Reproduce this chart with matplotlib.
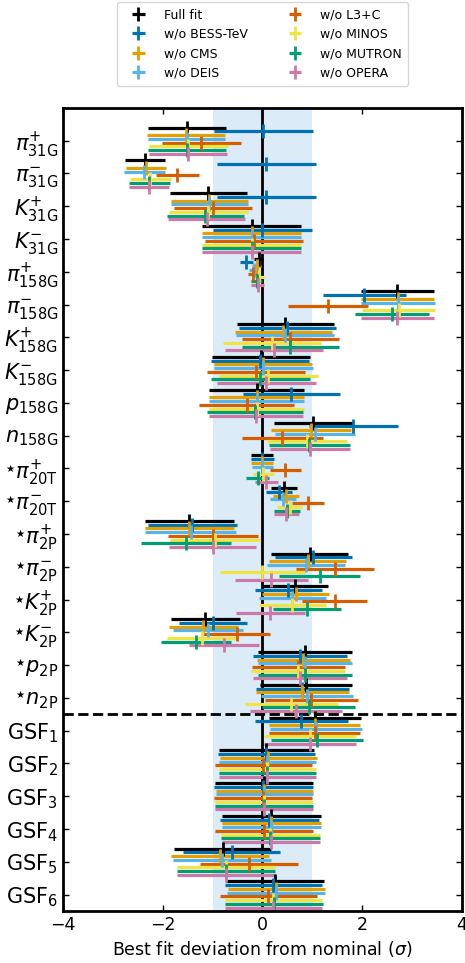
#!/usr/bin/env python

# Best-fit deviations of the flux parameters from nominal,
# for the full fit and for fits leaving out one data set at a time
# ------------------------------------------------------------------------------

import numpy as np
import matplotlib
matplotlib.use('Agg')
import matplotlib.pyplot as plt

# -------------
# Data
# -------------

# Parameter labels (top to bottom)
star = r'{}^{{}_{★}}'
params = [r'$\pi^{+}_{31\mathrm{G}}$', r'$\pi^{-}_{31\mathrm{G}}$',
          r'$K^{+}_{31\mathrm{G}}$', r'$K^{-}_{31\mathrm{G}}$',
          r'$\pi^{+}_{158\mathrm{G}}$', r'$\pi^{-}_{158\mathrm{G}}$',
          r'$K^{+}_{158\mathrm{G}}$', r'$K^{-}_{158\mathrm{G}}$',
          r'$p_{158\mathrm{G}}$', r'$n_{158\mathrm{G}}$',
          r'$' + star + r'\pi^{+}_{20\mathrm{T}}$', r'$' + star + r'\pi^{-}_{20\mathrm{T}}$',
          r'$' + star + r'\pi^{+}_{2\mathrm{P}}$', r'$' + star + r'\pi^{-}_{2\mathrm{P}}$',
          r'$' + star + r'K^{+}_{2\mathrm{P}}$', r'$' + star + r'K^{-}_{2\mathrm{P}}$',
          r'$' + star + r'p_{2\mathrm{P}}$', r'$' + star + r'n_{2\mathrm{P}}$',
          r'GSF$_1$', r'GSF$_2$', r'GSF$_3$', r'GSF$_4$', r'GSF$_5$', r'GSF$_6$']

labels = ['Full fit', 'w/o BESS-TeV', 'w/o CMS', 'w/o DEIS',
          'w/o L3+C', 'w/o MINOS', 'w/o MUTRON', 'w/o OPERA']

full = [-1.52, -2.35, -1.09, -0.22, -0.08, 2.70, 0.46, -0.03, -0.12, 1.02, -0.01, 0.44,
        -1.47, 0.95, 0.65, -1.15, 0.85, 0.87, 1.05, 0.08, 0.03, 0.18, -0.80, 0.25]
full_err = [0.785, 0.40, 0.77, 0.99, 0.09, 0.73, 0.98, 0.985, 0.95, 0.79, 0.23, 0.26,
            0.89, 0.77, 0.66, 0.69, 0.94, 0.93, 0.92, 0.955, 0.985, 0.985, 0.97, 0.98]

bess = [0.02, 0.08, 0.08, 0.00, -0.33, 2.04, 0.50, -0.05, 0.58, 1.82, 0.00, 0.34,
        -1.41, 1.02, 0.52, -0.99, 0.75, 0.80, 0.78, 0.08, 0.02, 0.14, -0.62, 0.22]
bess_err = [0.99, 0.985, 0.99, 0.995, 0.13, 0.835, 0.98, 0.985, 0.98, 0.89, 0.23, 0.26,
            0.89, 0.77, 0.67, 0.68, 0.95, 0.93, 0.93, 0.97, 0.985, 0.985, 0.975, 0.98]

cms = [-1.54, -2.34, -1.07, -0.22, -0.12, 2.71, 0.42, 0.01, -0.12, 0.97, -0.01, 0.47,
       -1.47, 0.91, 0.67, -1.19, 0.82, 0.80, 1.05, 0.12, 0.04, 0.18, -0.85, 0.28]
cms_err = [0.785, 0.40, 0.77, 0.99, 0.10, 0.73, 0.98, 0.99, 0.95, 0.80, 0.23, 0.26,
           0.89, 0.77, 0.67, 0.69, 0.94, 0.93, 0.91, 0.97, 0.98, 0.985, 0.98, 0.98]

deis = [-1.52, -2.37, -1.07, -0.22, -0.18, 2.71, 0.45, 0.02, -0.12, 1.05, 0.00, 0.42,
        -1.44, 0.87, 0.60, -1.10, 0.85, 0.89, 1.07, 0.10, 0.04, 0.18, -0.81, 0.27]
deis_err = [0.77, 0.41, 0.77, 0.99, 0.09, 0.74, 0.98, 0.985, 0.95, 0.80, 0.22, 0.26,
            0.91, 0.78, 0.68, 0.70, 0.94, 0.92, 0.92, 0.98, 0.98, 0.985, 0.975, 0.98]

l3c = [-1.23, -1.71, -0.99, -0.17, -0.20, 1.31, 0.56, -0.13, -0.32, 0.40, 0.46, 0.91,
       -1.00, 1.45, 1.45, -0.52, 0.72, 0.98, 1.05, 0.02, 0.01, 0.03, -0.27, 0.12]
l3c_err = [0.79, 0.43, 0.78, 0.99, 0.10, 0.80, 0.98, 0.985, 0.95, 0.82, 0.31, 0.32,
           0.90, 0.78, 0.65, 0.68, 0.94, 0.93, 0.91, 0.98, 0.985, 0.985, 0.98, 0.98]

minos = [-1.49, -2.25, -1.09, -0.22, -0.08, 2.73, 0.19, 0.12, -0.12, 0.90, 0.02, 0.55,
         -0.95, 0.00, 0.60, -1.22, 0.71, 0.58, 0.96, 0.10, 0.03, 0.16, -0.73, 0.22]
minos_err = [0.79, 0.41, 0.79, 0.99, 0.11, 0.725, 0.98, 0.985, 0.95, 0.80, 0.22, 0.25,
             0.90, 0.85, 0.68, 0.69, 0.94, 0.93, 0.92, 0.98, 0.985, 0.99, 0.98, 0.98]

mutron = [-1.52, -2.27, -1.15, -0.22, -0.12, 2.60, 0.56, -0.04, -0.15, 0.94, -0.10, 0.50,
          -1.53, 1.15, 0.89, -1.33, 0.85, 0.93, 1.09, 0.10, 0.03, 0.16, -0.73, 0.23]
mutron_err = [0.78, 0.41, 0.77, 0.99, 0.12, 0.74, 0.98, 0.985, 0.96, 0.81, 0.23, 0.26,
              0.90, 0.81, 0.68, 0.70, 0.95, 0.93, 0.92, 0.98, 0.985, 0.99, 0.98, 0.98]

opera = [-1.50, -2.27, -1.12, -0.22, -0.10, 2.70, 0.23, 0.08, -0.13, 0.95, 0.08, 0.48,
         -1.00, 0.18, 0.16, -0.77, 0.75, 0.67, 0.96, 0.10, 0.03, 0.17, -0.73, 0.22]
opera_err = [0.78, 0.40, 0.77, 0.99, 0.13, 0.73, 0.98, 0.985, 0.95, 0.80, 0.23, 0.25,
             0.87, 0.73, 0.69, 0.70, 0.94, 0.93, 0.92, 0.98, 0.985, 0.99, 0.98, 0.98]

# -------------
# Plot options
# -------------

colours = ['black', '#0072B2', '#E69F00', '#56B4E9',
           '#D55E00', '#F0E442', '#009E73', '#CC79A7']
values = [full, bess, cms, deis, l3c, minos, mutron, opera]
errors = [full_err, bess_err, cms_err, deis_err, l3c_err, minos_err, mutron_err, opera_err]

nparams = len(params)
nseries = len(values)
spread = 0.8  # total vertical spread of the series around each tick

# ------------------------------------------------------------------------------------

fig = plt.figure(figsize=(4.65, 9.63), dpi=100)
ax = fig.add_axes([0.1355, 0.054, 0.858, 0.834])

# 1 sigma band and zero line
ax.axvspan(-1, 1, color='#dbebf8', zorder=0, lw=0)
ax.axvline(0, color='black', lw=2, zorder=1)

ypos = np.arange(nparams)
for j in range(nseries):
    offset = (j - (nseries - 1) / 2.) * spread / (nseries - 1)
    ax.errorbar(values[j], ypos + offset, xerr=errors[j], fmt='|',
                color=colours[j], ecolor=colours[j], elinewidth=2.3,
                markersize=10, markeredgewidth=2, capsize=0, label=labels[j])

# Separate the GSF parameters
ax.axhline(17.5, color='black', ls='--', lw=2)

ax.set_xlim(-4, 4)
ax.set_ylim(nparams - 0.5, -1)
ax.set_xticks([-4, -2, 0, 2, 4])
ax.set_yticks(ypos)
ax.set_yticklabels(params, fontsize=15)
ax.tick_params(axis='x', labelsize=12.5)
ax.tick_params(direction='in', top=True, right=True, length=4, width=1)
for sp in ax.spines.values():
    sp.set_linewidth(2)

ax.set_xlabel(r'Best fit deviation from nominal ($\sigma$)', fontsize=12.5)

ax.legend(loc='lower center', bbox_to_anchor=(0.5, 1.02), ncol=2,
          fontsize=9, frameon=True, columnspacing=2.5,
          handlelength=2.5, borderpad=0.5)

plt.savefig('out.png', dpi=100, facecolor='w')
plt.close()
